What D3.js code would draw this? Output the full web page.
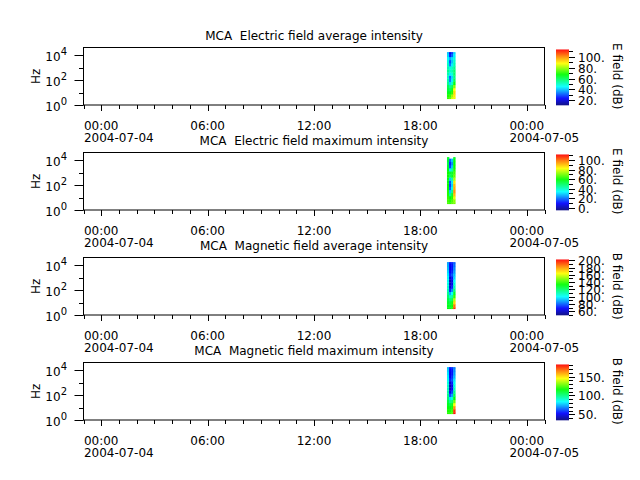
<!DOCTYPE html>
<html>
<head>
<meta charset="utf-8">
<script src="https://cdn.jsdelivr.net/npm/d3@7"></script>
<style>
  body { margin: 0; background: #fff; }
  text { font-family: "DejaVu Sans", sans-serif; fill: #000; }
</style>
</head>
<body>
<svg id="chart" width="640" height="480"></svg>
<script>
// panel titles / colorbar labels
var titles = ["MCA  Electric field average intensity", "MCA  Electric field maximum intensity",
              "MCA  Magnetic field average intensity", "MCA  Magnetic field maximum intensity"];
var cbLabels = ["E field (dB)", "E field (dB)", "B field (dB)", "B field (dB)"];
var cbDomains = [[11.5, 113.4], [-5, 112], [50, 202], [35, 182]];
var cbMajor = [[20, 40, 60, 80, 100], [0, 20, 40, 60, 80, 100],
               [60, 80, 100, 120, 140, 160, 180, 200], [50, 100, 150]];

// MCA channel centre frequencies (Hz)
var freqs = [3.16, 5.62, 10, 17.8, 31.6, 56.2, 100, 178, 316, 562, 1000, 1780, 3160, 5620, 10000, 17800];
// start of each time column (UT, 2004-07-04)
var times = ["19:30", "19:37", "19:44", "19:51"];
var colMinutes = 7;

// values per channel (low -> high freq), 4 time columns each, dB
var eAvg = [
  [72, 75, 85, 86], [70, 72, 80, 90], [65, 66, 70, 92], [62, 60, 65, 88],
  [60, 55, 60, 78], [55, 42, 50, 66], [52, 34, 44, 60], [50, 32, 42, 56],
  [52, 44, 48, 58], [55, 50, 52, 58], [52, 48, 50, 55], [50, 34, 44, 52],
  [48, 30, 40, 50], [45, 38, 42, 48], [42, 26, 32, 44], [40, 22, 28, 42]];
var eMax = [
  [66, 64, 68, 70], [65, 62, 66, 72], [64, 58, 62, 80], [62, 45, 55, 90],
  [62, 28, 45, 95], [60, 18, 35, 92], [60, 14, 30, 90], [58, 16, 32, 85],
  [58, 28, 42, 75], [60, 50, 55, 68], [60, 55, 55, 65], [58, 32, 42, 62],
  [55, 15, 28, 60], [52, 12, 22, 58], [55, 18, 28, 58], [55, null, null, 55]];
var bAvg = [
  [132, 130, 138, 195], [130, 128, 135, 185], [128, 125, 130, 170], [125, 118, 122, 155],
  [120, 108, 112, 140], [115, 90, 100, 128], [110, 72, 85, 118], [106, 62, 72, 110],
  [104, 58, 66, 105], [102, 58, 65, 100], [100, 62, 70, 95], [98, 72, 78, 92],
  [95, 68, 72, 88], [92, 66, 70, 85], [90, 68, 70, 82], [88, 70, 72, 80]];
var bMax = [
  [120, 120, 125, 180], [118, 118, 122, 175], [115, 114, 118, 162], [112, 108, 112, 145],
  [108, 98, 102, 128], [102, 80, 88, 115], [98, 62, 72, 105], [95, 50, 60, 98],
  [92, 44, 52, 92], [90, 42, 50, 88], [88, 45, 55, 85], [85, 56, 62, 80],
  [82, 52, 58, 75], [80, 50, 55, 72], [78, 52, 55, 70], [75, 55, 58, 68]];
var panelData = [eAvg, eMax, bAvg, bMax];

var svg = d3.select("#chart");
var left = 83.5, right = 544.5, panelH = 57.5, step = 105, firstTop = 47.5;
var cbX = 556, cbW = 13;

var parseT = function(s) { return new Date(Date.UTC(2004, 6, 4, +s.slice(0, 2), +s.slice(3, 5))); };
var x = d3.scaleUtc()
    .domain([new Date(Date.UTC(2004, 6, 3, 23)), new Date(Date.UTC(2004, 6, 5, 1))])
    .range([left, right]);

var rainbow = d3.scaleLinear()
    .domain([0, 0.12, 0.33, 0.55, 0.75, 0.88, 1])
    .range(["#000080", "#0000ff", "#00ffff", "#00ff00", "#ffff00", "#ff8000", "#ff0000"])
    .clamp(true);

var majorT = d3.utcHour.every(6).range(new Date(Date.UTC(2004, 6, 4)), new Date(Date.UTC(2004, 6, 5, 0, 1)));
var minorT = d3.utcHour.range(x.domain()[0], new Date(Date.UTC(2004, 6, 5, 1, 1)));

panelData.forEach(function(data, p) {
  var top = firstTop + p * step, bottom = top + panelH;
  var g = svg.append("g");
  var y = d3.scaleLog().domain([1, Math.pow(10, 4.62)]).range([bottom, top]);
  var norm = d3.scaleLinear().domain(cbDomains[p]).range([0, 1]);

  // spectrogram cells
  freqs.forEach(function(f, i) {
    var lo = i == 0 ? f : Math.sqrt(freqs[i - 1] * f);
    var hi = i == freqs.length - 1 ? f : Math.sqrt(f * freqs[i + 1]);
    times.forEach(function(t, j) {
      var v = data[i][j];
      if (v == null) return;
      var t0 = parseT(t), t1 = d3.utcMinute.offset(t0, colMinutes);
      g.append("rect")
        .attr("x", x(t0)).attr("width", x(t1) - x(t0) + 0.3)
        .attr("y", y(hi)).attr("height", y(lo) - y(hi) + 0.3)
        .attr("fill", rainbow(norm(v)));
    });
  });

  // frame
  g.append("rect").attr("x", left).attr("y", top).attr("width", right - left).attr("height", panelH)
    .attr("fill", "none").attr("stroke", "#000");

  // y ticks
  [0, 1, 2, 3, 4].forEach(function(e) {
    var yy = Math.round(y(Math.pow(10, e))) + 0.5;
    var len = e % 2 == 0 ? 9 : 4.5;
    g.append("line").attr("x1", left - len).attr("x2", left).attr("y1", yy).attr("y2", yy).attr("stroke", "#000");
    if (e % 2 == 0) {
      var t = g.append("text").attr("x", 67).attr("y", yy + 5).attr("text-anchor", "end").style("font-size", "12px");
      t.append("tspan").text("10");
      t.append("tspan").attr("dy", -6).style("font-size", "10px").text(e);
    }
  });
  g.append("text").attr("transform", "translate(40," + (top + panelH / 2) + ") rotate(-90)")
    .attr("text-anchor", "middle").style("font-size", "12px").text("Hz");

  // x ticks
  minorT.forEach(function(d) {
    var xx = Math.round(x(d)) + 0.5;
    var major = d.getUTCHours() % 6 == 0;
    g.append("line").attr("x1", xx).attr("x2", xx).attr("y1", bottom).attr("y2", bottom + (major ? 6 : 4)).attr("stroke", "#000");
  });
  majorT.forEach(function(d, k) {
    var xx = x(d);
    var lab = g.append("text").style("font-size", "12px").attr("y", bottom + 24.5).text(d3.utcFormat("%H:%M")(d));
    var w = lab.node().getComputedTextLength();
    lab.attr("x", xx - w / 2);
    if (k == 0 || k == majorT.length - 1)
      g.append("text").style("font-size", "12px").attr("x", xx - w / 2).attr("y", bottom + 36.5)
        .text(d3.utcFormat("%Y-%m-%d")(d));
  });

  // title
  g.append("text").attr("x", (left + right) / 2).attr("y", top - 8).attr("text-anchor", "middle")
    .style("font-size", "12px").style("white-space", "pre").text(titles[p]);

  // colorbar
  var cbTop = top + 2, cbBottom = bottom;
  var cy = d3.scaleLinear().domain(cbDomains[p]).range([cbBottom, cbTop]);
  d3.range(cbTop, cbBottom, 0.5).forEach(function(yy) {
    g.append("rect").attr("x", cbX).attr("y", yy).attr("width", cbW).attr("height", 0.8)
      .attr("fill", rainbow(norm(cy.invert(yy + 0.25))));
  });
  d3.range(Math.ceil(cbDomains[p][0] / 10) * 10, cbDomains[p][1], 10).forEach(function(v) {
    var major = cbMajor[p].indexOf(v) >= 0;
    var yy = Math.round(cy(v)) + 0.5;
    g.append("line").attr("x1", cbX + cbW).attr("x2", cbX + cbW + (major ? 6 : 4)).attr("y1", yy).attr("y2", yy).attr("stroke", "#000");
    if (major)
      g.append("text").attr("x", cbX + cbW + 9).attr("y", yy + 4.5).style("font-size", "12px").text(v + ".");
  });
  g.append("text").attr("transform", "translate(613," + (top + panelH / 2) + ") rotate(90)")
    .attr("text-anchor", "middle").style("font-size", "12px").text(cbLabels[p]);
});
</script>
</body>
</html>
